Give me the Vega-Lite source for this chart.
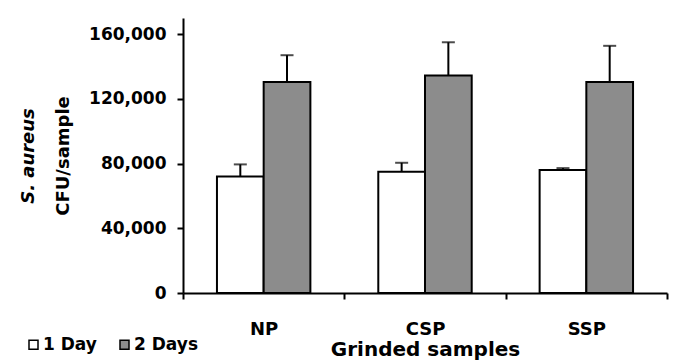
{
  "$schema": "https://vega.github.io/schema/vega-lite/v6.json",
  "width": 484,
  "height": 275,
  "autosize": {"type": "none"},
  "padding": {"left": 183, "top": 18, "right": 14, "bottom": 69},
  "background": "white",
  "config": {"view": {"stroke": null}, "font": "DejaVu Sans"},
  "data": {"values": [
    {"sample": "NP", "day": "1 Day", "cfu": 72000, "upper": 79500},
    {"sample": "NP", "day": "2 Days", "cfu": 130500, "upper": 147000},
    {"sample": "CSP", "day": "1 Day", "cfu": 74900, "upper": 80500},
    {"sample": "CSP", "day": "2 Days", "cfu": 134400, "upper": 155000},
    {"sample": "SSP", "day": "1 Day", "cfu": 76000, "upper": 77200},
    {"sample": "SSP", "day": "2 Days", "cfu": 130500, "upper": 152800}
  ]},
  "encoding": {
    "x": {
      "field": "sample", "type": "nominal", "sort": ["NP", "CSP", "SSP"],
      "scale": {"paddingInner": 0, "paddingOuter": 0},
      "axis": {
        "title": "Grinded samples", "labelAngle": 0, "tickBand": "extent",
        "labelFont": "DejaVu Sans", "labelFontSize": 18, "labelFontWeight": "bold", "labelColor": "black",
        "labelPadding": 21, "tickSize": 6, "tickWidth": 2, "tickColor": "black",
        "domainColor": "black", "domainWidth": 2,
        "titleFont": "DejaVu Sans", "titleFontSize": 20, "titleFontWeight": "bold", "titleColor": "black",
        "titlePadding": 1
      }
    },
    "xOffset": {"field": "day", "type": "nominal", "scale": {"paddingInner": 0, "paddingOuter": 0.727}}
  },
  "layer": [
    {
      "mark": {"type": "bar", "stroke": "black", "strokeWidth": 2},
      "encoding": {
        "y": {
          "field": "cfu", "type": "quantitative",
          "scale": {"domain": [0, 170000], "nice": false},
          "axis": {
            "values": [0, 40000, 80000, 120000, 160000], "format": ",d", "grid": false,
            "labelFont": "DejaVu Sans", "labelFontSize": 17, "labelFontWeight": "bold", "labelColor": "black",
            "labelPadding": 11, "tickSize": 6, "tickWidth": 2, "tickColor": "black",
            "domainColor": "black", "domainWidth": 2,
            "title": "CFU/sample", "titleFont": "DejaVu Sans", "titleFontSize": 18, "titleFontWeight": "bold",
            "titleColor": "black", "titlePadding": 16
          }
        },
        "fill": {
          "field": "day", "type": "nominal",
          "scale": {"domain": ["1 Day", "2 Days"], "range": ["white", "#8c8c8c"]},
          "legend": {
            "title": null, "orient": "none", "legendX": -158, "legendY": 318, "direction": "horizontal",
            "padding": 0, "symbolType": "square", "symbolSize": 81, "symbolStrokeColor": "black",
            "symbolStrokeWidth": 1.5, "labelFont": "DejaVu Sans", "labelFontSize": 17, "labelFontWeight": "bold",
            "labelColor": "black", "labelOffset": 1, "columnPadding": 19
          }
        }
      }
    },
    {
      "mark": {"type": "rule", "strokeWidth": 2, "color": "black"},
      "encoding": {
        "y": {
          "field": "cfu", "type": "quantitative",
          "scale": {"domain": [0, 170000], "nice": false},
          "axis": {
            "orient": "left", "labels": false, "ticks": false, "domain": false, "grid": false,
            "title": "S. aureus", "titleFont": "DejaVu Sans", "titleFontSize": 18, "titleFontWeight": "bold",
            "titleFontStyle": "italic", "titleColor": "black", "titlePadding": 146
          }
        },
        "y2": {"field": "upper"}
      }
    },
    {
      "mark": {"type": "tick", "orient": "horizontal", "size": 13, "thickness": 2, "color": "black"},
      "encoding": {
        "y": {"field": "upper", "type": "quantitative", "scale": {"domain": [0, 170000], "nice": false}, "axis": null}
      }
    }
  ],
  "resolve": {"axis": {"y": "independent"}}
}
